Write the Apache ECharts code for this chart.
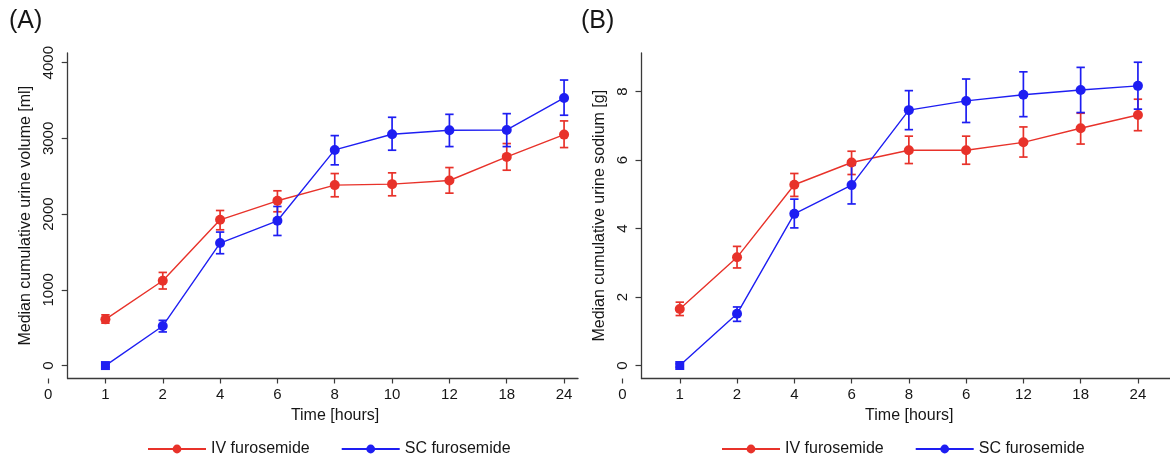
<!DOCTYPE html>
<html>
<head>
<meta charset="utf-8">
<script src="https://cdn.jsdelivr.net/npm/echarts@6/dist/echarts.min.js"></script>
<style>
html,body{margin:0;padding:0;background:#fff;}
#c{width:1170px;height:458px;}
</style>
</head>
<body>
<div id="c"></div>
<script>
// ---- data ----
const tickLabelsA = ['0','1','2','4','6','8','10','12','18','24'];
const tickLabelsB = ['0','1','2','4','6','8','6','12','18','24'];
const positions = [1,2,3,4,5,6,7,8,9];

// Panel A: urine volume [ml]
const ivVolume      = [610, 1120, 1925, 2176, 2383, 2396, 2444, 2756, 3050];
const ivVolumeLow   = [560, 1011, 1793, 2031, 2229, 2242, 2277, 2580, 2879];
const ivVolumeHigh  = [670, 1230, 2048, 2308, 2536, 2545, 2615, 2932, 3231];
const scVolume      = [0, 523, 1618, 1912, 2848, 3055, 3108, 3112, 3534];
const scVolumeLow   = [-20, 444, 1477, 1718, 2651, 2844, 2892, 2892, 3306];
const scVolumeHigh  = [20, 597, 1763, 2101, 3037, 3279, 3318, 3327, 3771];

// Panel B: urine sodium [g]
const ivSodium      = [1.65, 3.16, 5.28, 5.93, 6.29, 6.29, 6.52, 6.93, 7.32];
const ivSodiumLow   = [1.46, 2.85, 4.94, 5.58, 5.90, 5.88, 6.09, 6.47, 6.86];
const ivSodiumHigh  = [1.85, 3.48, 5.61, 6.26, 6.70, 6.70, 6.97, 7.37, 7.78];
const scSodium      = [0, 1.51, 4.43, 5.27, 7.46, 7.73, 7.91, 8.05, 8.17];
const scSodiumLow   = [-0.05, 1.29, 4.02, 4.72, 6.89, 7.10, 7.27, 7.39, 7.49];
const scSodiumHigh  = [0.05, 1.71, 4.86, 5.85, 8.03, 8.37, 8.58, 8.71, 8.86];

const yTicksA = [0, 1000, 2000, 3000, 4000];
const yTicksB = [0, 2, 4, 6, 8];
const xTickPos = [0,1,2,3,4,5,6,7,8,9];

// ---- styling ----
const RED = '#e8322a';
const BLUE = '#1e1ef2';
const FONT = '"Liberation Sans", Arial, Helvetica, sans-serif';
const TXT = '#161616';
const AX = '#3a3a3a';

function pts(vals, firstRect){
  return positions.map((p,i)=> (firstRect && i === 0)
    ? {value:[p, vals[i]], symbol:'rect', symbolSize:9}
    : [p, vals[i]]);
}
function errData(lo, hi){ return positions.map((p,i)=>[p, lo[i], hi[i]]); }
function errRender(color){
  return function(params, api){
    const x = api.value(0), lo = api.value(1), hi = api.value(2);
    const a = api.coord([x, hi]), b = api.coord([x, lo]);
    const hw = 4.2;
    const st = {stroke: color, lineWidth: 1.7};
    return {type:'group', children:[
      {type:'line', shape:{x1:a[0], y1:a[1], x2:b[0], y2:b[1]}, style:st},
      {type:'line', shape:{x1:a[0]-hw, y1:a[1], x2:a[0]+hw, y2:a[1]}, style:st},
      {type:'line', shape:{x1:b[0]-hw, y1:b[1], x2:b[0]+hw, y2:b[1]}, style:st}
    ]};
  };
}
function lineSeries(name, color, data, ai, firstRect){
  return {
    type:'line', name, xAxisIndex:ai, yAxisIndex:ai, data: pts(data, firstRect),
    symbol:'circle', symbolSize: 10,
    itemStyle:{color}, lineStyle:{color, width:1.4},
    animation:false, z:3
  };
}
function errSeries(name, color, lo, hi, ai){
  return {
    type:'custom', name, xAxisIndex:ai, yAxisIndex:ai,
    data: errData(lo, hi), encode:{x:0, y:[1,2]},
    itemStyle:{color},
    renderItem: errRender(color), animation:false, z:2
  };
}

const gridTop = 53, gridBottom = 458 - 378.5;

function mainX(gi, labels, max, padLeft){
  return {
    gridIndex: gi, type:'value', min:0, max:max,
    axisLine:{show:false, onZero:false},
    splitLine:{show:false},
    axisTick:{show:true, customValues:xTickPos, length:5, lineStyle:{color:AX, width:1.2}},
    axisLabel:{customValues:xTickPos, formatter:(v)=>labels[Math.round(v)], margin:9,
      fontSize:15, color:TXT, fontFamily:FONT},
    name:'Time [hours]', nameLocation:'middle', nameGap:25,
    nameTextStyle:{fontSize:16, color:TXT, fontFamily:FONT, padding:[0,0,0,padLeft]}
  };
}
function helperX(gi){
  return {gridIndex:gi, type:'value', min:0, max:1,
    axisLine:{show:true, onZero:false, lineStyle:{color:AX, width:1.3}},
    axisTick:{show:false}, axisLabel:{show:false}, splitLine:{show:false}};
}
function mainY(gi, min, max, ticks, name, offset){
  return {
    gridIndex: gi, type:'value', min, max, offset,
    axisLine:{show:true, onZero:false, lineStyle:{color:AX, width:1.3}},
    splitLine:{show:false},
    axisTick:{show:true, customValues:ticks, length:6, lineStyle:{color:AX, width:1.2}},
    axisLabel:{customValues:ticks, formatter:(v)=>String(v), rotate:90, margin:11,
      fontSize:15, color:TXT, fontFamily:FONT},
    name, nameLocation:'middle', nameGap:34,
    nameTextStyle:{fontSize:16, color:TXT, fontFamily:FONT}
  };
}
function helperY(gi){
  return {gridIndex:gi, type:'value', min:0, max:1, show:false};
}

const legendBase = {top:436, itemWidth:58, itemHeight:11, itemGap:31,
  data:['IV furosemide','SC furosemide'],
  textStyle:{fontSize:16, color:TXT, fontFamily:FONT}};

const option = {
  backgroundColor:'#fff',
  animation:false,
  textStyle:{fontFamily:FONT},
  title:[
    {text:'(A)', left:9, top:9, padding:0, textStyle:{fontSize:25, fontWeight:'normal', color:TXT, fontFamily:FONT}},
    {text:'(B)', left:581, top:9, padding:0, textStyle:{fontSize:25, fontWeight:'normal', color:TXT, fontFamily:FONT}}
  ],
  legend:[
    Object.assign({left:142}, legendBase),
    Object.assign({left:716}, legendBase)
  ],
  grid:[
    {left:48.1, right:1170-578, top:gridTop, bottom:gridBottom},
    {left:67.7, right:1170-578, top:gridTop, bottom:gridBottom},
    {left:622.5, right:0, top:gridTop, bottom:gridBottom},
    {left:641.5, right:0, top:gridTop, bottom:gridBottom}
  ],
  xAxis:[
    mainX(0, tickLabelsA, 9.243, 44),
    helperX(1),
    mainX(2, tickLabelsB, 9.56, 26),
    helperX(3)
  ],
  yAxis:[
    mainY(0, -171, 4128, yTicksA, 'Median cumulative urine volume [ml]', -19.6),
    helperY(1),
    mainY(2, -0.38, 9.13, yTicksB, 'Median cumulative urine sodium [g]', -19),
    helperY(3)
  ],
  series:[
    lineSeries('IV furosemide', RED, ivVolume, 0, false),
    lineSeries('SC furosemide', BLUE, scVolume, 0, true),
    lineSeries('IV furosemide', RED, ivSodium, 2, false),
    lineSeries('SC furosemide', BLUE, scSodium, 2, true),
    errSeries('IV furosemide', RED, ivVolumeLow, ivVolumeHigh, 0),
    errSeries('SC furosemide', BLUE, scVolumeLow, scVolumeHigh, 0),
    errSeries('IV furosemide', RED, ivSodiumLow, ivSodiumHigh, 2),
    errSeries('SC furosemide', BLUE, scSodiumLow, scSodiumHigh, 2)
  ]
};

const chart = echarts.init(document.getElementById('c'), null, {renderer:'canvas'});
chart.setOption(option);
</script>
</body>
</html>
